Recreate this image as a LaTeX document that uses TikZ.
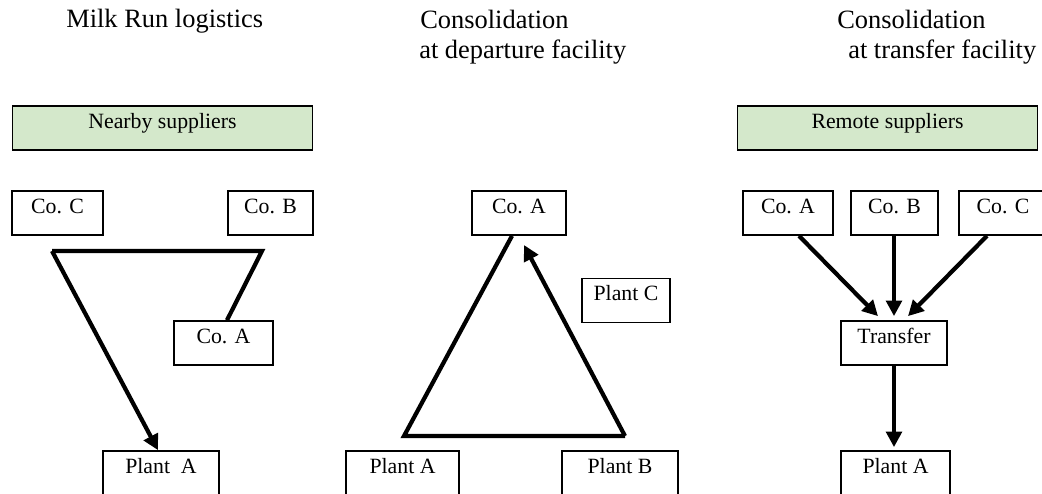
\documentclass[tikz,border=0pt]{standalone}
\usepackage{fontspec}
\setmainfont{Liberation Serif}
\usepackage{xcolor}
\usetikzlibrary{arrows.meta}
\definecolor{supgreen}{RGB}{212,232,203}

\begin{document}
\begin{tikzpicture}[
    x=0.025cm, y=-0.025cm,
    box/.style={rectangle, draw, line width=1.2pt, inner sep=0pt, text height=0.55cm, text depth=0.55cm, font=\fontsize{15.5}{18}\selectfont},
    group/.style={box, fill=supgreen, minimum width=7.5cm},
    title/.style={anchor=base west, inner sep=0pt, font=\fontsize{18.8}{22}\selectfont},
    arrow/.style={-{Triangle[length=11pt,width=11pt]}, line width=3pt},
    route/.style={line width=3pt}
]
    \useasboundingbox (0,0) rectangle (1042,494);

    % Titles
    \node[title] at (66,27) (t1) {Milk Run logistics};
    \node[title] at (420,28) (t2) {Consolidation};
    \node[title] at (419,58) (t2b) {at departure facility};
    \node[title] at (837,28) (t3) {Consolidation};
    \node[title] at (848,58) (t3b) {at transfer facility};

    % Milk run
    \node[group] at (162.5,128) (nearby) {Nearby suppliers};
    \node[box, minimum width=2.275cm] at (57.5,213) (coC1) {Co. C};
    \node[box, minimum width=2.125cm] at (270.5,213) (coB1) {Co. B};
    \node[box, minimum width=2.475cm] at (223.5,343) (coA1) {Co. A};
    \node[box, minimum width=2.9cm] at (161,473) (plantA1) {Plant\ \ A};
    \coordinate (turnB) at (262,251);
    \coordinate (turnC) at (52,251);
    \draw[route] (coA1.north -| 227,0) -- (turnB) -- (turnC);
    \draw[arrow] (turnC) -- (plantA1.north -| 158,0);

    % Departure facility
    \node[box, minimum width=2.35cm] at (519,213) (coA2) {Co. A};
    \node[box, minimum width=2.2cm] at (626,300.5) (plantC2) {Plant C};
    \node[box, minimum width=2.825cm] at (402.5,473) (plantA2) {Plant A};
    \node[box, minimum width=2.9cm] at (620,473) (plantB2) {Plant B};
    \coordinate (cornerA) at (404,436);
    \coordinate (cornerB) at (625,436);
    \coordinate (tipA) at (524,245);
    \draw[route] (coA2.south -| 512,0) -- (cornerA) -- (cornerB);
    \draw[arrow] (cornerB) -- (tipA);

    % Transfer facility
    \node[group] at (887.5,128) (remote) {Remote suppliers};
    \node[box, minimum width=2.25cm] at (788,213) (coA3) {Co. A};
    \node[box, minimum width=2.175cm] at (894.5,213) (coB3) {Co. B};
    \node[box, minimum width=2.2cm] at (1003,213) (coC3) {Co. C};
    \node[box, minimum width=2.65cm] at (894,343) (transfer) {Transfer};
    \node[box, minimum width=2.725cm] at (895.5,473) (plantA3) {Plant A};
    \draw[arrow] (coA3.south -| 799,0) -- ([yshift=0.1cm]transfer.north -| 878,0);
    \draw[arrow] (coB3.south -| 894,0) -- ([yshift=0.1cm]transfer.north -| 894,0);
    \draw[arrow] (coC3.south -| 987,0) -- ([yshift=0.1cm]transfer.north -| 908,0);
    \draw[arrow] (transfer.south -| 894,0) -- ([yshift=0.075cm]plantA3.north -| 894,0);

\end{tikzpicture}
\end{document}
